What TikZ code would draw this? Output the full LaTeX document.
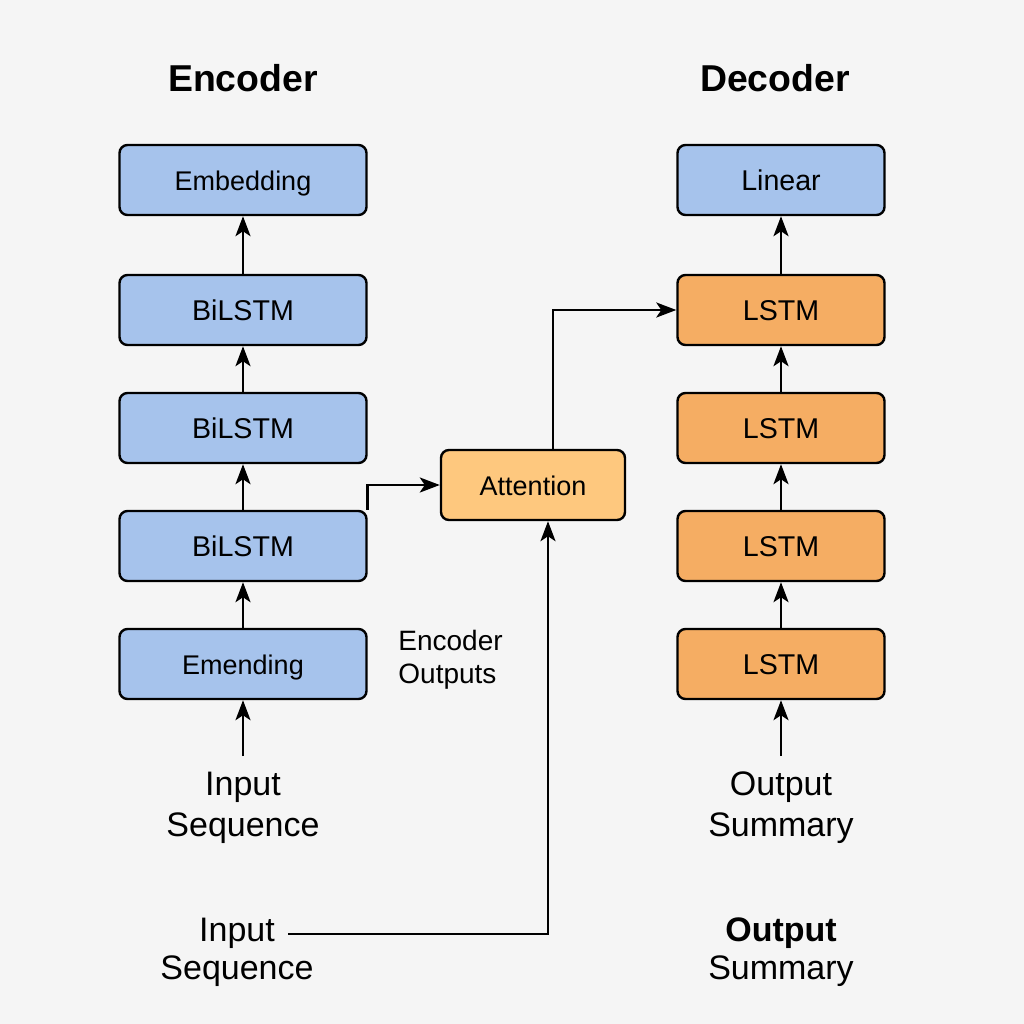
\documentclass[tikz,border=0pt]{standalone}
\usepackage{fontspec}
\setmainfont{Liberation Sans}
\usetikzlibrary{arrows.meta}
\definecolor{encblue}{HTML}{A6C3EC}
\definecolor{decorange}{HTML}{F5AD63}
\definecolor{attyellow}{HTML}{FEC87E}
\definecolor{bgray}{HTML}{F5F5F5}
\tikzstyle{layer}=[rectangle, rounded corners=4pt, draw, line width=1.2pt, inner sep=0pt, minimum height=35pt, text height=10pt, text depth=0pt, font=\fontsize{14.3}{16}\selectfont]
\tikzstyle{enc}=[layer, fill=encblue, minimum width=123.5pt]
\tikzstyle{dec}=[layer, fill=decorange, minimum width=103.5pt]
\tikzstyle{att}=[layer, fill=attyellow, minimum width=92pt, font=\fontsize{13.5}{16}\selectfont]
\tikzstyle{label}=[align=center, inner sep=0pt, font=\fontsize{17}{20.5}\selectfont]
\tikzstyle{link}=[line width=1.3pt, -{Stealth[length=10pt, width=7.5pt, inset=2.5pt]}]
\newcommand{\enc}{\node[enc]}
\newcommand{\dec}{\node[dec]}

\begin{document}
\begin{tikzpicture}[x=0.5pt, y=-0.5pt
    ,every edge/.style={draw, link}
]
\fill[bgray] (0,0) rectangle (1024,1024);
\useasboundingbox (0,0) rectangle (1024,1024);
\node[font=\fontsize{18.7}{22}\selectfont\bfseries] (enctitle) at (243,78) {Encoder};
\node[font=\fontsize{18.7}{22}\selectfont\bfseries] (dectitle) at (775,78) {Decoder};
% encoder stack
\enc[font=\fontsize{13.5}{16}\selectfont] (e5) at (243,180) {Embedding};
\enc (e4) at (243,310) {BiLSTM};
\enc (e3) at (243,428) {BiLSTM};
\enc (e2) at (243,546) {BiLSTM};
\enc[font=\fontsize{13.5}{16}\selectfont] (e1) at (243,664) {Emending};
% decoder stack
\dec[fill=encblue] (d5) at (781,180) {Linear};
\dec (d4) at (781,310) {LSTM};
\dec (d3) at (781,428) {LSTM};
\dec (d2) at (781,546) {LSTM};
\dec (d1) at (781,664) {LSTM};
\node[att] (attn) at (533,485) {Attention};
\node[align=left, inner sep=0pt, font=\fontsize{14}{16.5}\selectfont, anchor=west] (encout) at (398,660) {Encoder\\Outputs};
\node[label] (inseq) at (243,808) {Input\\Sequence};
\node[label] (outsum) at (781,808) {Output\\Summary};
\node[label, font=\fontsize{17}{19}\selectfont] (inseq2) at (237,952) {Input\\Sequence};
\node[label, font=\fontsize{17}{19}\selectfont] (outsum2) at (781,952) {\textbf{Output}\\Summary};
\coordinate (inend) at (288,934);
\coordinate (encin) at (243,756);
\coordinate (decin) at (781,756);
\path
(encin) edge (e1)
(e1) edge (e2)
(e2) edge (e3)
(e3) edge (e4)
(e4) edge (e5)
(decin) edge (d1)
(d1) edge (d2)
(d2) edge (d3)
(d3) edge (d4)
(d4) edge (d5)
;
\draw[link] (e2.north east) |- (attn.west);
\draw[link] ([xshift=10pt]attn.north) |- (d4.west);
\draw[link] (inend) -| ([xshift=7.5pt]attn.south);
\end{tikzpicture}
\end{document}
